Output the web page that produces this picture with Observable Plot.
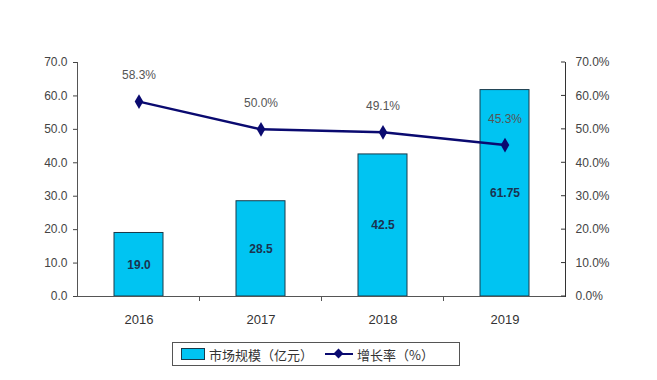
<!DOCTYPE html>
<html><head><meta charset="utf-8">
<script src="https://cdn.jsdelivr.net/npm/d3@7"></script>
<script src="https://cdn.jsdelivr.net/npm/@observablehq/plot@0.6"></script>
<style>
body{margin:0;background:#fff;font-family:Arial,"Liberation Sans","Noto Sans CJK SC",sans-serif;}
#wrap{position:relative;width:657px;height:380px;}
#legend{position:absolute;left:172px;top:342px;width:288px;height:24px;border:1px solid #555;box-sizing:border-box;display:flex;align-items:center;font-size:13px;color:#333;font-family:"Noto Sans CJK SC",sans-serif;}
.sw{display:inline-block;width:22px;height:10px;background:#00c4f2;border:1px solid #1a3a4a;margin:0 4px 0 8px;}
.ln{display:inline-block;position:relative;width:28px;height:2px;background:#0a0a70;margin:0 4px 0 12px;}
.ln::after{content:"";position:absolute;left:10px;top:-3px;width:7px;height:7px;background:#0a0a70;transform:rotate(45deg);}
</style></head>
<body><div id="wrap"><div id="chart"></div>
<div id="legend"><span class="sw"></span>市场规模（亿元）<span class="ln"></span>增长率（%）</div></div>
<script>
const years = ["2016","2017","2018","2019"];
const marketSize = [19.0, 28.5, 42.5, 61.75];
const marketLabels = ["19.0","28.5","42.5","61.75"];
const growthRate = [58.3, 50.0, 49.1, 45.3];
const growthLabels = ["58.3%","50.0%","49.1%","45.3%"];
const leftTicks = [0,10,20,30,40,50,60,70];

const data = years.map((y,i)=>({year:y, size:marketSize[i], sizeLabel:marketLabels[i], rate:growthRate[i], rateLabel:growthLabels[i]}));

const chart = Plot.plot({
  width:657, height:335,
  marginTop:62, marginBottom:39, marginLeft:77, marginRight:92,
  style:{fontFamily:"Arial, 'Liberation Sans', sans-serif", fontSize:"12px", color:"#444"},
  x:{domain:years, paddingInner:0.6, paddingOuter:0.3, label:null},
  y:{domain:[0,70], label:null},
  marks:[
    Plot.barY(data,{x:"year", y:"size", fill:"#00c4f2", stroke:"#1a3a4a", strokeWidth:1}),
    Plot.ruleY([0],{stroke:"#555"}),
    Plot.frame({anchor:"left", stroke:"#555"}),
    Plot.axisY({ticks:leftTicks, tickFormat:d=>d.toFixed(1), anchor:"left", tickSize:4, tickPadding:6, fontSize:12, color:"#444", label:null}),
    Plot.frame({anchor:"right", stroke:"#333"}),
    Plot.axisY({ticks:leftTicks, tickFormat:d=>d.toFixed(1)+"%", anchor:"right", tickSize:0, tickPadding:10, fontSize:12, color:"#444", label:null}),
    Plot.axisX({tickSize:0, tickPadding:18, fontSize:13, color:"#333", label:null}),
    Plot.line(data,{x:"year", y:"rate", stroke:"#0a0a70", strokeWidth:2.5}),
    Plot.dot(data,{x:"year", y:"rate", symbol:"diamond", r:4.5, fill:"#0a0a70"}),
    Plot.text(data,{x:"year", y:"rate", text:"rateLabel", dy:-26, fill:"#555", fontSize:12}),
    Plot.text(data,{x:"year", y:d=>d.size/2, text:"sizeLabel", fill:"#1a3350", fontWeight:"bold", fontSize:12})
  ]
});
document.getElementById("chart").appendChild(chart);

// right-axis inward ticks and x band separators, positioned from Plot's scales
const svg = d3.select(chart);
const xs = chart.scale("x"), ys = chart.scale("y");
const xRight = 657-92;
svg.selectAll("line.rt").data(leftTicks).join("line").attr("x1",xRight-4).attr("x2",xRight).attr("y1",d=>ys.apply(d)).attr("y2",d=>ys.apply(d)).attr("stroke","#333");
const step = xs.step;
years.slice(1).forEach(y=>{
  const xb = xs.apply(y) - (step - xs.bandwidth)/2;
  svg.append("line").attr("x1",xb).attr("x2",xb).attr("y1",ys.apply(0)).attr("y2",ys.apply(0)+5).attr("stroke","#555");
});
</script></body></html>
